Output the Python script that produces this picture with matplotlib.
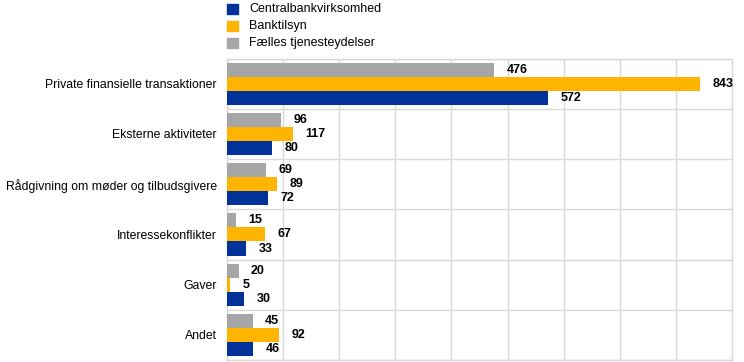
import matplotlib
matplotlib.use("Agg")
import matplotlib.pyplot as plt
import numpy as np
from matplotlib.patches import Rectangle

categories = ["Private finansielle transaktioner", "Eksterne aktiviteter",
              "Rådgivning om møder og tilbudsgivere", "Interessekonflikter",
              "Gaver", "Andet"]
central = [572, 80, 72, 33, 30, 46]
banktilsyn = [843, 117, 89, 67, 5, 92]
faelles = [476, 96, 69, 15, 20, 45]
series_names = ["Centralbankvirksomhed", "Banktilsyn", "Fælles tjenesteydelser"]
colors = ["#003299", "#FFB400", "#A6A6A6"]

plt.rcParams['font.family'] = ['Liberation Sans', 'DejaVu Sans']

fig = plt.figure(figsize=(7.44, 3.62), dpi=100)
ax = fig.add_axes([0.3055, 0.0055, 0.9835 - 0.3055, 0.838 - 0.0055])

y = np.arange(len(categories))
h = 0.28
for vals, off, col in [(faelles, -h, colors[2]), (banktilsyn, 0.0, colors[1]), (central, h, colors[0])]:
    ax.barh(y + off, vals, height=h, color=col, zorder=3)
    for yy, v in zip(y + off, vals):
        ax.annotate(str(v), xy=(v, yy), xytext=(9, 0), textcoords="offset points",
                    ha="left", va="center", fontsize=9, fontweight="bold", color="black")

ax.set_xlim(0, 900)
ax.set_ylim(len(categories) - 0.5, -0.5)
ax.set_xticks(np.arange(0, 901, 100))
ax.set_xticklabels([])
ax.tick_params(axis="x", length=0)
ax.set_yticks(y)
ax.set_yticklabels(categories, fontsize=8.8)
ax.tick_params(axis="y", length=0, pad=7.5)
ax.set_yticks(np.arange(-0.5, len(categories), 1.0), minor=True)
ax.tick_params(axis="y", which="minor", length=0)
ax.grid(True, axis="x", which="major", color="#D9D9D9", linewidth=1.0, zorder=0)
ax.grid(True, axis="y", which="minor", color="#D9D9D9", linewidth=1.0, zorder=0)
for s in ax.spines.values():
    s.set_color("#D9D9D9")
    s.set_linewidth(1.0)

# legend
leg_y = [9, 26, 43]
for name, col, yy in zip(series_names, colors, leg_y):
    fig.patches.append(Rectangle((227 / 744, 1 - (yy + 5) / 362), 11 / 744, 10 / 362,
                                 transform=fig.transFigure, color=col))
    fig.text(249 / 744, 1 - yy / 362, name, fontsize=9, va="center", ha="left")

fig.savefig("out.png", dpi=100)
